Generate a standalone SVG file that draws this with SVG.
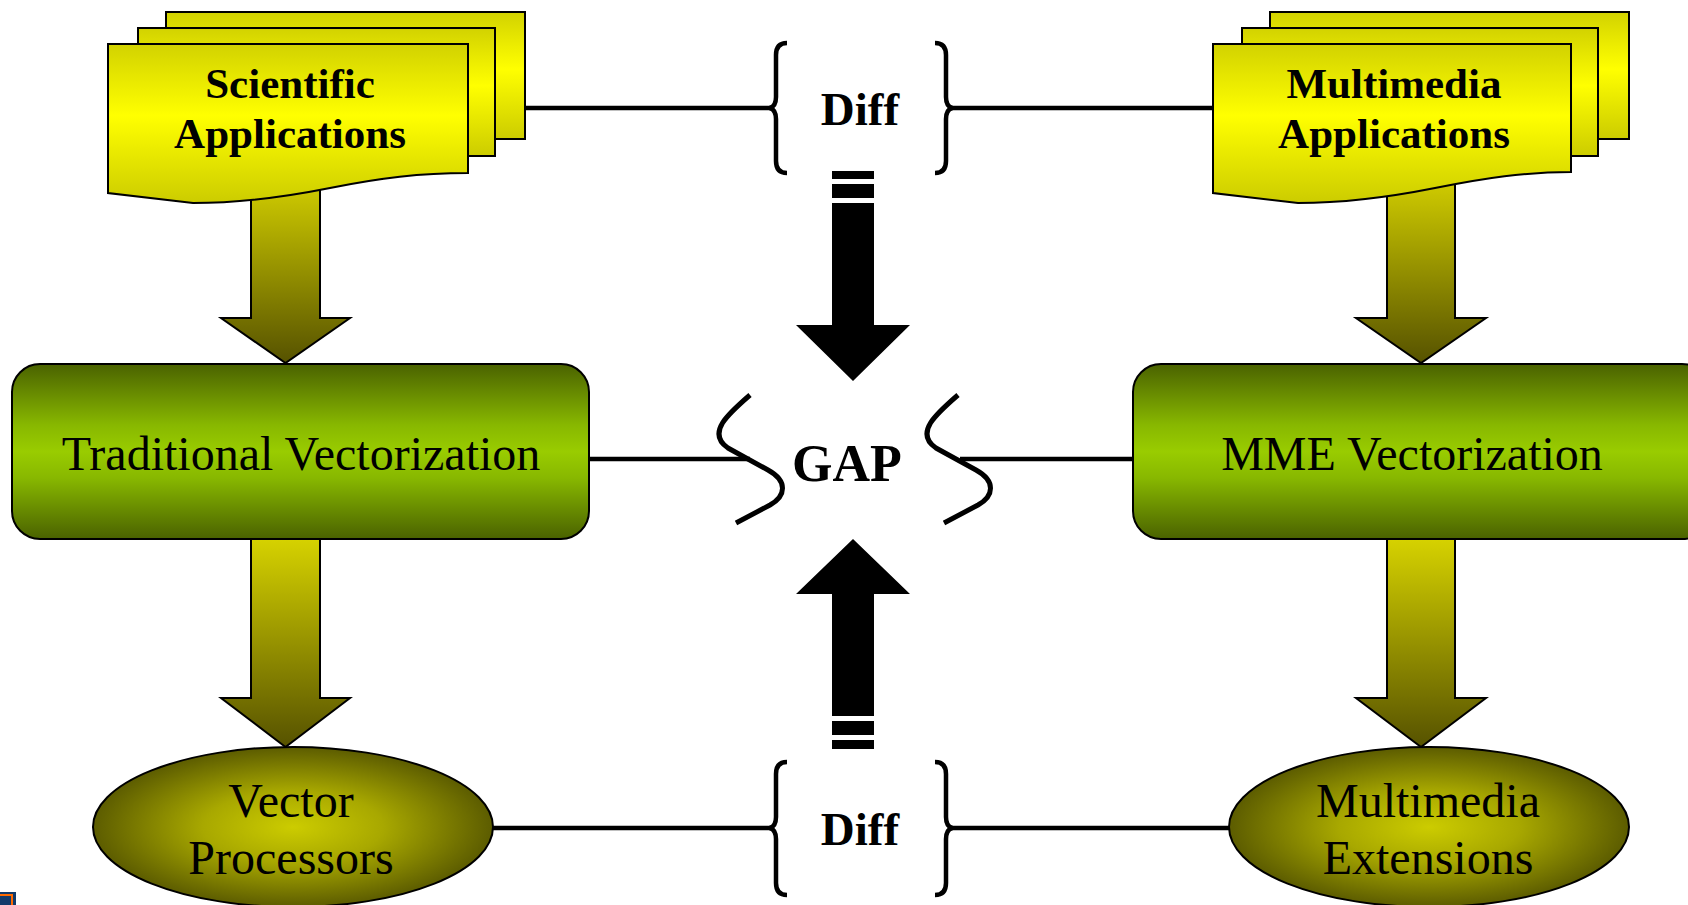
<svg xmlns="http://www.w3.org/2000/svg" width="1688" height="905" viewBox="0 0 1688 905">
<defs>
<linearGradient id="gPage" x1="0" y1="0" x2="0" y2="1">
<stop offset="0" stop-color="#d2d200"/><stop offset="0.45" stop-color="#ffff00"/><stop offset="1" stop-color="#cccc00"/>
</linearGradient>
<linearGradient id="gBox" x1="0" y1="0" x2="0" y2="1">
<stop offset="0" stop-color="#4a6200"/><stop offset="0.35" stop-color="#88b800"/><stop offset="0.5" stop-color="#99cc00"/><stop offset="0.65" stop-color="#88b800"/><stop offset="1" stop-color="#4a6200"/>
</linearGradient>
<linearGradient id="gArrow" x1="0" y1="0" x2="0" y2="1">
<stop offset="0" stop-color="#d6d200"/><stop offset="1" stop-color="#565200"/>
</linearGradient>
<radialGradient id="gEll" cx="0.5" cy="0.5" r="0.5">
<stop offset="0" stop-color="#cccc00"/><stop offset="0.45" stop-color="#a8a800"/><stop offset="1" stop-color="#5c5c00"/>
</radialGradient>
</defs>
<style>
.page{fill:url(#gPage);stroke:#000;stroke-width:2}
.box{fill:url(#gBox);stroke:#000;stroke-width:2}
.ell{fill:url(#gEll);stroke:#000;stroke-width:2}
.fat{fill:url(#gArrow);stroke:#000;stroke-width:2;stroke-linejoin:miter}
.line{fill:none;stroke:#000;stroke-width:4.5}
.brace{fill:none;stroke:#000;stroke-width:4.5;stroke-linecap:butt}
.sq{fill:none;stroke:#000;stroke-width:5}
.blk{fill:#000}
.tb{font-family:"Liberation Serif","Times New Roman",serif;font-weight:bold;fill:#000;text-anchor:middle}
.tr{font-family:"Liberation Serif","Times New Roman",serif;fill:#000;text-anchor:middle;font-size:48px}
</style>
<rect width="1688" height="905" fill="#fff"/>

<g id="connectors">
<polygon class="fat" points="251,175 320,175 320,318 350,318 285.5,363 221,318 251,318"/>
<polygon class="fat" points="251,539 320,539 320,698 350,698 285.5,747 221,698 251,698"/>
<polygon class="fat" points="1387,172 1455,172 1455,318 1486,318 1421,363 1356,318 1387,318"/>
<polygon class="fat" points="1387,539 1455,539 1455,698 1486,698 1421,747 1356,698 1387,698"/>
<line class="line" x1="520" y1="108" x2="772" y2="108"/>
<line class="line" x1="950" y1="108" x2="1215" y2="108"/>
<line class="line" x1="488" y1="828" x2="772" y2="828"/>
<line class="line" x1="950" y1="828" x2="1232" y2="828"/>
<line class="line" x1="587" y1="459" x2="750" y2="459"/>
<line class="line" x1="960" y1="459" x2="1135" y2="459"/>
<path class="brace" d="M787,43 Q776,43 776,55 L776,97 Q776,106 770,108 Q776,110 776,119 L776,161 Q776,173 787,173"/>
<path class="brace" d="M935,43 Q946,43 946,55 L946,97 Q946,106 952,108 Q946,110 946,119 L946,161 Q946,173 935,173"/>
<path class="brace" d="M787,762 Q776,762 776,774 L776,817 Q776,826 770,828 Q776,830 776,839 L776,883 Q776,895 787,895"/>
<path class="brace" d="M935,762 Q946,762 946,774 L946,817 Q946,826 952,828 Q946,830 946,839 L946,883 Q946,895 935,895"/>
<path class="sq" d="M750,395 C728,414 706,433 728,448 L768,470 C788,481 786,496 770,505 L736,523"/>
<path class="sq" transform="translate(208,0)" d="M750,395 C728,414 706,433 728,448 L768,470 C788,481 786,496 770,505 L736,523"/>
<g id="arrow-down">
<rect class="blk" x="832" y="171" width="42" height="8"/>
<rect class="blk" x="832" y="184" width="42" height="14"/>
<polygon class="blk" points="832,203 874,203 874,325 910,325 853,381 796,325 832,325"/>
</g>
<g id="arrow-up">
<polygon class="blk" points="853,539 910,594 874,594 874,716 832,716 832,594 796,594"/>
<rect class="blk" x="832" y="721" width="42" height="14"/>
<rect class="blk" x="832" y="740" width="42" height="9"/>
</g>
</g>

<g id="sci-apps">
<rect class="page" x="166" y="12" width="359" height="127"/>
<rect class="page" x="138" y="28" width="357" height="128"/>
<path class="page" d="M108,44 H468 V173 C420,173 380,178 330,188 C280,198 240,203 193,203 L108,193 Z"/>
<text class="tb" x="290" y="98" font-size="43">Scientific</text>
<text class="tb" x="290" y="148" font-size="43">Applications</text>
</g>

<g id="mm-apps">
<rect class="page" x="1270" y="12" width="359" height="127"/>
<rect class="page" x="1242" y="28" width="356" height="128"/>
<path class="page" transform="translate(1105,0)" d="M108,44 H466 V172 C420,172 380,178 330,188 C280,198 240,203 193,203 L108,193 Z"/>
<text class="tb" x="1394" y="98" font-size="43">Multimedia</text>
<text class="tb" x="1394" y="148" font-size="43">Applications</text>
</g>

<g id="diff-top">
<text class="tb" x="860" y="125" font-size="47">Diff</text>
</g>

<g id="trad-vec">
<rect class="box" x="12" y="364" width="577" height="175" rx="28" ry="28"/>
<text class="tr" x="301" y="470">Traditional Vectorization</text>
</g>

<g id="gap">
<text class="tb" x="847" y="481" font-size="52">GAP</text>
</g>

<g id="mme-vec">
<rect class="box" x="1133" y="364" width="577" height="175" rx="28" ry="28"/>
<text class="tr" x="1412" y="470">MME Vectorization</text>
</g>

<g id="vec-proc">
<ellipse class="ell" cx="293" cy="827" rx="200" ry="80"/>
<text class="tr" x="291" y="817">Vector</text>
<text class="tr" x="291" y="874">Processors</text>
</g>

<g id="diff-bottom">
<text class="tb" x="860" y="845" font-size="47">Diff</text>
</g>

<g id="mm-ext">
<ellipse class="ell" cx="1429" cy="827" rx="200" ry="80"/>
<text class="tr" x="1428" y="817">Multimedia</text>
<text class="tr" x="1428" y="874">Extensions</text>
</g>

<g id="corner-icon">
<rect x="0" y="892" width="16" height="13" fill="#123a6a"/>
<path d="M0,895 H12 V905" fill="none" stroke="#ff6a00" stroke-width="2"/>
</g>
</svg>
